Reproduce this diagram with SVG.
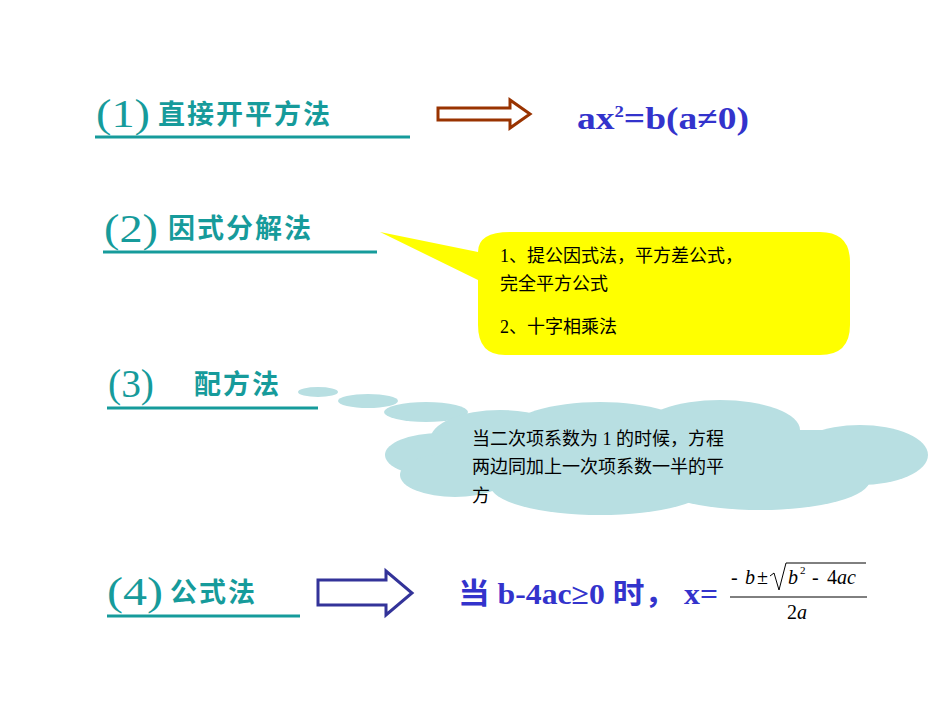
<svg xmlns="http://www.w3.org/2000/svg" width="950" height="713" viewBox="0 0 950 713">
<style>
.num{font-family:"Liberation Serif",serif;font-size:40px;fill:#169b9b}
.ttl{font-family:"Noto Sans CJK SC",sans-serif;font-weight:bold;font-size:27px;fill:#169b9b;letter-spacing:2px}
.ul{stroke:#169b9b;stroke-width:3}
.blk{font-family:"Liberation Serif","Noto Sans CJK SC",serif;font-size:18px;fill:#000}
.blue{font-family:"Liberation Serif","Noto Sans CJK SC",serif;font-weight:bold;fill:#3333cc}
.math{font-family:"Liberation Serif",serif;font-style:italic;font-size:20px;fill:#000}
.up{font-style:normal}
</style>
<rect width="950" height="713" fill="#fff"/>
<g id="n1">
<text class="num" x="96" y="127" textLength="54" lengthAdjust="spacingAndGlyphs">(1)</text>
<text class="ttl" x="158" y="124">直接开平方法</text>
<line class="ul" x1="95" y1="137" x2="410" y2="137"/>
</g>
<g id="n2">
<text class="num" x="104" y="242" textLength="54" lengthAdjust="spacingAndGlyphs">(2)</text>
<text class="ttl" x="168" y="238">因式分解法</text>
<line class="ul" x1="103" y1="252" x2="377" y2="252"/>
</g>
<g id="n3">
<text class="num" x="108" y="397" textLength="46" lengthAdjust="spacingAndGlyphs">(3)</text>
<text class="ttl" x="194" y="394">配方法</text>
<line class="ul" x1="107" y1="408" x2="318" y2="408"/>
</g>
<g id="n4">
<text class="num" x="107" y="605" textLength="56" lengthAdjust="spacingAndGlyphs">(4)</text>
<text class="ttl" x="170" y="602">公式法</text>
<line class="ul" x1="107" y1="616" x2="300" y2="616"/>
</g>
<g id="connectors">
<path d="M438,108 H510 V100 L530,114 L510,128 V120 H438 Z" fill="#fff" stroke="#993300" stroke-width="3"/>
<path d="M318,580 H386 V571 L412,593 L386,615 V605 H318 Z" fill="#fff" stroke="#333399" stroke-width="3"/>
</g>
<g id="r1"><text class="blue" x="577" y="129" font-size="32" textLength="172" lengthAdjust="spacingAndGlyphs">ax<tspan font-size="16" dy="-12">2</tspan><tspan dy="12">=b(a≠0)</tspan></text></g>
<g id="callout">
<path d="M380,232 L478,252 Q478,232 510,232 H820 Q850,232 850,262 V325 Q850,355 820,355 H505 Q478,355 478,325 V280 Z" fill="#ffff00"/>
<text class="blk" x="500" y="262">1、提公因式法，平方差公式，</text>
<text class="blk" x="500" y="290">完全平方公式</text>
<text class="blk" x="500" y="333">2、十字相乘法</text>
</g>
<g id="cloud" fill="#b8dfe2">
<ellipse cx="318" cy="392" rx="20" ry="5"/>
<ellipse cx="368" cy="401" rx="30" ry="7"/>
<ellipse cx="426" cy="412" rx="42" ry="10"/>
<ellipse cx="500" cy="440" rx="70" ry="30"/>
<ellipse cx="440" cy="455" rx="55" ry="22"/>
<ellipse cx="455" cy="475" rx="55" ry="22"/>
<ellipse cx="600" cy="430" rx="90" ry="28"/>
<ellipse cx="720" cy="430" rx="80" ry="30"/>
<ellipse cx="860" cy="455" rx="68" ry="30"/>
<ellipse cx="600" cy="485" rx="110" ry="30"/>
<ellipse cx="760" cy="480" rx="110" ry="30"/>
<rect x="450" y="430" width="410" height="60"/>
<text class="blk" x="472" y="445" font-size="17">当二次项系数为 1 的时候，方程</text>
<text class="blk" x="472" y="473" font-size="17">两边同加上一次项系数一半的平</text>
<text class="blk" x="472" y="502" font-size="17">方</text>
</g>
<g id="r4">
<text class="blue" x="458" y="604" font-size="29" textLength="260" lengthAdjust="spacingAndGlyphs">当 b-4ac≥0 时，  x=</text>
<text class="math up" x="731" y="584">-</text>
<text class="math" x="745" y="584">b</text>
<text class="math up" x="757" y="584">±</text>
<path d="M770,576 L774,573 L779,590 L786,563 H866" fill="none" stroke="#000" stroke-width="1"/>
<text class="math" x="788" y="584">b</text>
<text class="math up" x="800" y="574" style="font-size:11px">2</text>
<text class="math up" x="812" y="584">-</text>
<text class="math" x="827" y="584"><tspan class="up">4</tspan>ac</text>
<line x1="730" y1="597" x2="867" y2="597" stroke="#000" stroke-width="1"/>
<text class="math" x="787" y="619"><tspan class="up">2</tspan>a</text>
</g>
</svg>
